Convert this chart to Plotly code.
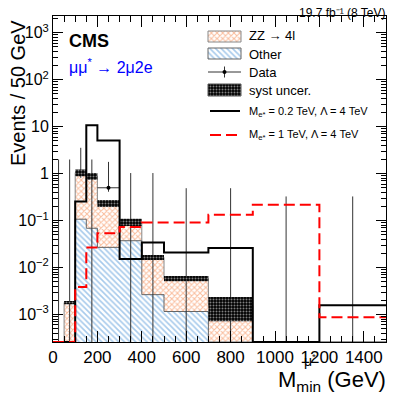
import plotly.graph_objects as go

# bin edges in GeV
edges = [0, 50, 100, 150, 200, 300, 400, 500, 700, 900, 1200, 1500]

# backgrounds, events / 50 GeV
other = [0, 0, 0.107, 0.0687, 0.0269, 0.0373, 0.00265, 0.00116, 0, 0, 0]
zz = [0, 0.0018, 0.943, 0.821, 0.207, 0.0557, 0.0138, 0.0047, 0.00154, 0, 0]
syst = [0, 0.00015, 0.17, 0.145, 0.04, 0.016, 0.002, 0.00072, 0.00082, 0, 0]

# data with asymmetric (Poisson) errors, events / 50 GeV
data = [0, 0, 1, 0, 0.5, 0, 0, 0, 0, 0, 0]
data_hi = [2.0, 2.0, 3.55, 2.0, 1.78, 1.03, 1.03, 0.49, 0.49, 0.327, 0.327]
data_lo = [0, 0, 0.184, 0, 0.088, 0, 0, 0, 0, 0, 0]

# signals
sig_02 = [0, 0, 0.255, 10.7, 5.09, 0.0153, 0.034, 0.021, 0.026, 0, 0.00157]
sig_1 = [0, 0, 0.00386, 0.0269, 0.0537, 0.0735, 0.0906, 0.0906, 0.1325, 0.217, 0.00088]

YLO, YHI = -3.585, 3.357
FLOOR = 10 ** YLO

FONT = "Liberation Sans, Arial, sans-serif"
ORANGE = "#f47c3c"
BLUE = "#4f95d8"

# the page puts the figure 8px in from the corner; plot frame sits at 53..386 x 16..342 on the page
OFF = 8
PX0, PX1, PY0, PY1 = 53, 386, 16, 342

PAT_ZZ = dict(shape="x", fgcolor=ORANGE, bgcolor="white", size=4, solidity=0.45)
PAT_OTHER = dict(shape="\\", fgcolor=BLUE, bgcolor="white", size=4, solidity=0.4)
PAT_SYST = dict(shape=".", fgcolor="white", bgcolor="black", size=3, solidity=0.35)


def step(vals):
    xs, ys = [], []
    for i, v in enumerate(vals):
        v = max(v, FLOOR)
        xs += [edges[i], edges[i + 1]]
        ys += [v, v]
    return xs, ys


def region(vals):
    xs, ys = step(vals)
    return xs + [edges[-1], edges[0], edges[0]], ys + [FLOOR / 2, FLOOR / 2, ys[0]]


def px(x):
    return (x - PX0) / (PX1 - PX0)


def py(y):
    return (PY1 - y) / (PY1 - PY0)


total = [o + z for o, z in zip(other, zz)]

fig = go.Figure()

# ZZ stacked on top of Other: draw the full stack, then Other over it
xs, ys = region(total)
fig.add_trace(go.Scatter(x=xs, y=ys, mode="lines", fill="toself",
                         line=dict(color="#888888", width=1),
                         fillcolor="white", fillpattern=PAT_ZZ))
xs, ys = region(other)
fig.add_trace(go.Scatter(x=xs, y=ys, mode="lines", fill="toself",
                         line=dict(color="#666666", width=1),
                         fillcolor="white", fillpattern=PAT_OTHER))

# data
ex, ey = [], []
mx, my = [], []
for i, v in enumerate(data):
    c = (edges[i] + edges[i + 1]) / 2
    lo = v - data_lo[i] if v > 0 else FLOOR / 2
    ex += [c, c, None]
    ey += [max(lo, FLOOR / 2), data_hi[i], None]
    if v > 0:
        ex += [edges[i], edges[i + 1], None]
        ey += [v, v, None]
        mx.append(c)
        my.append(v)
fig.add_trace(go.Scatter(x=ex, y=ey, mode="lines", line=dict(color="#333333", width=1)))
fig.add_trace(go.Scatter(x=mx, y=my, mode="markers", marker=dict(color="black", size=4)))

# syst band
bx, by = [], []
for i, (t, e) in enumerate(zip(total, syst)):
    if e <= 0:
        continue
    bx += [edges[i], edges[i + 1], edges[i + 1], edges[i], edges[i], None]
    by += [t - e, t - e, t + e, t + e, t - e, None]
fig.add_trace(go.Scatter(x=bx, y=by, mode="lines", fill="toself",
                         line=dict(width=0, color="black"), fillcolor="white",
                         fillpattern=PAT_SYST))

# signals
xs, ys = step(sig_02)
fig.add_trace(go.Scatter(x=xs, y=ys, mode="lines", line=dict(color="black", width=2)))
xs, ys = step(sig_1)
fig.add_trace(go.Scatter(x=xs, y=ys, mode="lines",
                         line=dict(color="#ff0000", width=2, dash="11px,5px")))

# legend drawn on a pixel overlay
LX0, LX1 = 208, 241


def box(y0, y1):
    return [LX0, LX1, LX1, LX0, LX0], [y0, y0, y1, y1, y0]


for (y0, y1), pat, lc in [((31, 42), PAT_ZZ, "#888888"),
                          ((48, 59), PAT_OTHER, "#666666"),
                          ((84, 96), PAT_SYST, "#555555")]:
    bxs, bys = box(y0, y1)
    fig.add_trace(go.Scatter(x=bxs, y=bys, xaxis="x2", yaxis="y2", mode="lines", fill="toself",
                             line=dict(color=lc, width=1), fillcolor="white", fillpattern=pat))
fig.add_trace(go.Scatter(x=[LX0, LX1, None, 224.5, 224.5], y=[72, 72, None, 66.5, 77.5],
                         xaxis="x2", yaxis="y2", mode="lines", line=dict(color="#333333", width=1)))
fig.add_trace(go.Scatter(x=[224.5], y=[72], xaxis="x2", yaxis="y2", mode="markers",
                         marker=dict(color="black", size=4)))
fig.add_trace(go.Scatter(x=[210, 240], y=[111, 111], xaxis="x2", yaxis="y2", mode="lines",
                         line=dict(color="black", width=2)))
fig.add_trace(go.Scatter(x=[210, 240], y=[135, 135], xaxis="x2", yaxis="y2", mode="lines",
                         line=dict(color="#ff0000", width=2, dash="11px,5px")))

ann = [
    ("ZZ → 4l", 247, 36, 13, "black", "left", "middle"),
    ("Other", 247, 54, 13, "black", "left", "middle"),
    ("Data", 247, 72, 13, "black", "left", "middle"),
    ("syst uncer.", 247, 90, 13, "black", "left", "middle"),
    ("M<sub>e*</sub> = 0.2 TeV, Λ = 4 TeV", 247, 112, 11, "black", "left", "middle"),
    ("M<sub>e*</sub> = 1 TeV, Λ = 4 TeV", 247, 135, 11, "black", "left", "middle"),
    ("<b>CMS</b>", 67, 41, 18, "black", "left", "middle"),
    ("μμ<sup>*</sup> → 2μ2e", 67, 66, 16, "#0000ff", "left", "middle"),
    ("19.7 fb⁻¹ (8 TeV)", 388, 13.5, 12, "black", "right", "middle"),
    ("M<sub>min</sub> (GeV)", 388, 381, 22, "black", "right", "middle"),
    ("μ<sup>*</sup>", 302, 360, 14, "black", "left", "middle"),
]
for text, x, y, size, color, xa, ya in ann:
    fig.add_annotation(text=text, x=px(x), y=py(y), xref="paper", yref="paper",
                       showarrow=False, xanchor=xa, yanchor=ya,
                       font=dict(size=size, color=color, family=FONT))
fig.add_annotation(text="Events / 50 GeV", x=px(18), y=py(93), xref="paper", yref="paper",
                   showarrow=False, textangle=-90, xanchor="center", yanchor="middle",
                   font=dict(size=20, color="black", family=FONT))

ytv = [10 ** k for k in range(-3, 4)]
ytt = ["10<sup>−3</sup>", "10<sup>−2</sup>", "10<sup>−1</sup>", "1", "10",
       "10<sup>2</sup>", "10<sup>3</sup>"]
yminor = [m * 10 ** k for k in range(-4, 4) for m in range(2, 10)]

W, H = 407 - OFF, 398 - OFF
fig.update_layout(
    width=W, height=H,
    margin=dict(l=PX0 - OFF, r=W - (PX1 - OFF), t=PY0 - OFF, b=H - (PY1 - OFF)),
    paper_bgcolor="white", plot_bgcolor="white",
    showlegend=False,
    font=dict(family=FONT, color="black"),
    xaxis=dict(range=[0, 1500], tickmode="array", tickvals=list(range(0, 1401, 200)),
               ticks="inside", ticklen=11, tickwidth=1, tickcolor="black",
               minor=dict(dtick=50, ticks="inside", ticklen=6, tickcolor="black"),
               showline=True, linecolor="black", linewidth=1, mirror="allticks",
               showgrid=False, zeroline=False, tickfont=dict(size=17)),
    yaxis=dict(type="log", range=[YLO, YHI], tickmode="array", tickvals=ytv, ticktext=ytt,
               ticks="inside", ticklen=10, tickwidth=1, tickcolor="black",
               minor=dict(tickmode="array", tickvals=yminor, ticks="inside", ticklen=5,
                          tickcolor="black"),
               showline=True, linecolor="black", linewidth=1, mirror="allticks",
               showgrid=False, zeroline=False, tickfont=dict(size=16)),
    xaxis2=dict(overlaying="x", range=[PX0, PX1], visible=False),
    yaxis2=dict(overlaying="y", range=[PY1, PY0], visible=False),
)

fig.write_html("out.html")
